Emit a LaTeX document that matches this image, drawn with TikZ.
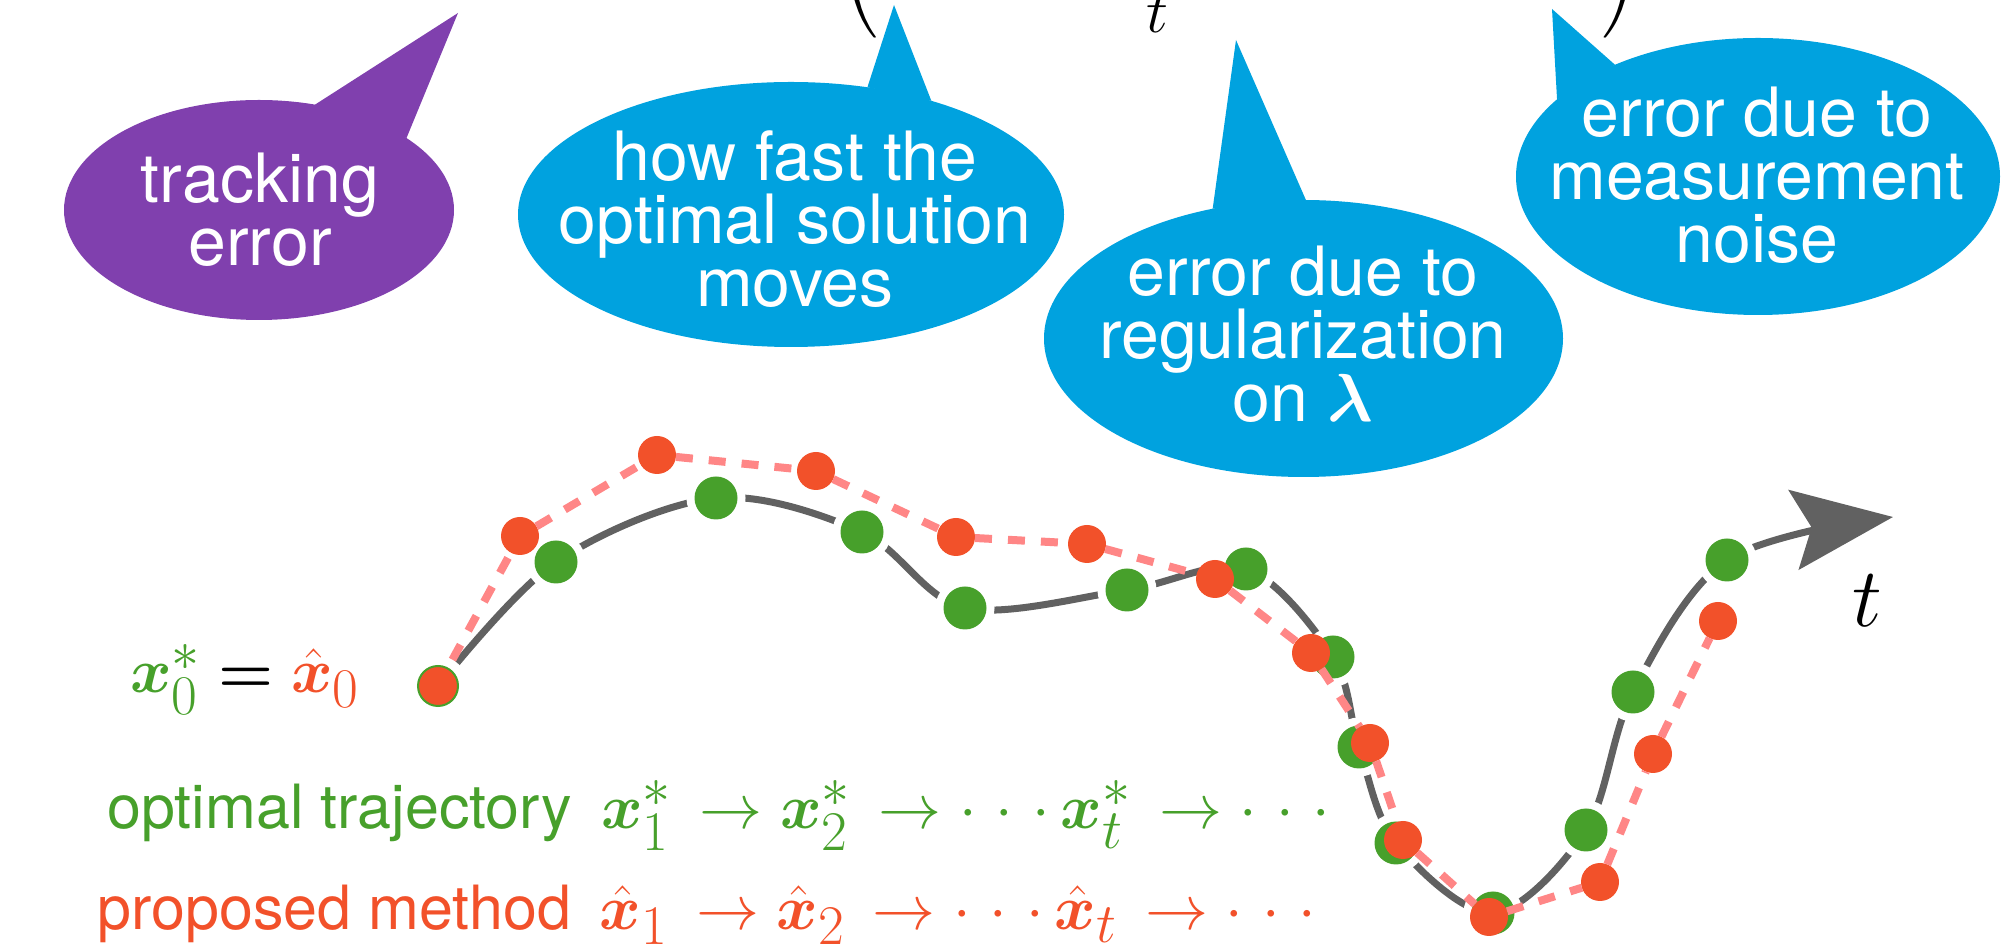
\RequirePackage{fix-cm}
\documentclass[tikz,border=0pt]{standalone}
\usepackage[no-math]{fontspec}
\setmainfont{TeX Gyre Heros}
\usepackage{amsmath}
\usepackage{bm}
\usetikzlibrary{arrows.meta,shapes.geometric,backgrounds}
\definecolor{trkpurple}{HTML}{8040AE}
\definecolor{optblue}{HTML}{00A2DF}
\definecolor{optgreen}{HTML}{47A02B}
\definecolor{proporange}{HTML}{F2512A}
\definecolor{propink}{HTML}{FF8686}
\definecolor{curvegray}{HTML}{616161}
\DeclareMathSizes{31.5}{31.5}{28}{22}
\newcommand{\rowmath}[1]{\hspace{6pt}{\fontsize{31.5pt}{32pt}\selectfont$#1$}}
\newcommand{\wdots}{\mathinner{\cdotp\mkern2.5mu\cdotp\mkern2.5mu\cdotp}}

\begin{document}
\begin{tikzpicture}[
   x=0.5pt, y=-0.5pt,
   bubble/.style={ellipse,inner sep=0pt,outer sep=0pt},
   trkbub/.style={bubble,fill=trkpurple},
   optbub/.style={bubble,fill=optblue},
   bubtxt/.style={text=white,align=center,inner sep=0pt,
                  font=\fontsize{34pt}{31.5pt}\selectfont},
   rowtxt/.style={anchor=base west,inner sep=0pt,
                  font=\fontsize{30.5pt}{32pt}\selectfont},
   mathlbl/.style={inner sep=0pt},
   gdot/.style={circle,fill=optgreen,inner sep=0pt,minimum size=21.5pt,
                preaction={draw=white,line width=8pt}},
   rdot/.style={circle,fill=proporange,inner sep=0pt,outer sep=0pt,minimum size=19pt},
   startdot/.style={circle,fill=proporange,draw=optgreen,line width=1pt,inner sep=0pt,
                minimum size=20pt,outer sep=5pt,preaction={draw=white,line width=10pt}},
   optcurve/.style={draw=curvegray,line width=3.5pt},
   propline/.style={draw=propink,line width=4pt,dash pattern=on 8.5pt off 8pt},
   ]
\useasboundingbox (0,0) rectangle (2015,945);
\clip (0,0) rectangle (2015,945);
%% top formula (cut by the frame)
\node[mathlbl,anchor=south east,font=\fontsize{34pt}{34pt}\selectfont] (lpar) at (878,38) {$\Biggl($};
\node[mathlbl,anchor=base,font=\fontsize{31pt}{31pt}\selectfont] (tsub) at (1157,33) {$t$};
\node[mathlbl,anchor=south west,font=\fontsize{34pt}{34pt}\selectfont] (rpar) at (1602,38) {$\Biggr)$};
%% speech bubbles
\node[trkbub,minimum width=195pt,minimum height=110pt] (trk) at (259,210) {};
\node[optbub,minimum width=273pt,minimum height=132.5pt] (fast) at (791,214.5) {};
\node[optbub,minimum width=259.5pt,minimum height=138.5pt] (reg) at (1303.5,338.5) {};
\node[optbub,minimum width=242pt,minimum height=138.5pt] (noise) at (1758,176.5) {};
\coordinate (trktip) at (458,13);
\coordinate (fasttip) at (894,5);
\coordinate (regtip) at (1236,40);
\coordinate (noisetip) at (1552,9);
\begin{scope}[on background layer]
   \fill[trkpurple] (trk.62) -- (trktip) -- (trk.26) -- cycle;
   \fill[optblue] (fast.59) -- (fasttip) -- (fast.39) -- cycle;
   \fill[optblue] (reg.125) -- (regtip) -- (reg.89) -- cycle;
   \fill[optblue] (noise.159) -- (noisetip) -- (noise.142) -- cycle;
\end{scope}
\node[bubtxt] (trktxt) at (260,209.5) {tracking\\error};
\node[bubtxt] (fasttxt) at (795,219) {how fast the\\optimal solution\\moves};
\node[bubtxt] (regtxt) at (1303,334) {error due to\\regularization\\on $\bm{\lambda}$};
\node[bubtxt] (noisetxt) at (1757,175) {error due to\\measurement\\noise};
%% trajectories
\node[startdot] (x0) at (438,686) {};
\foreach \px/\py [count=\i] in {556/562,716/498,862/532,965/608,1127/590,1246/569,
      1333/657,1359/747,1396/843,1493/913,1586/830,1633/692,1727/560}
   \node[gdot] (g\i) at (\px,\py) {};
\foreach \px/\py [count=\i] in {520/536,657/455,816/471,956/537,1087/544,1215/579,
      1311/653,1370/743,1403/840,1489/917,1600/882,1653/754,1718/621}
   \node[rdot] (r\i) at (\px,\py) {};
\coordinate (tend) at (1893,517);
\begin{scope}[on background layer]
   \draw[optcurve,-{Stealth[length=50pt,width=40pt,inset=9pt]}]
      plot[smooth,tension=0.55] coordinates {(x0.center) (g1.center) (g2.center)
      (g3.center) (g4.center) (g5.center) (g6.center) (g7.center) (g8.center)
      (g9.center) (g10.center) (g11.center) (g12.center) (g13.center) (tend)};
\end{scope}
\draw[propline] (x0) -- (r1) -- (r2) -- (r3) -- (r4) -- (r5) -- (r6) -- (r7)
   -- (r8) -- (r9) -- (r10) -- (r11) -- (r12) -- (r13);
\node[mathlbl,anchor=base west,font=\fontsize{42pt}{42pt}\selectfont] (taxis) at (1852,627) {$t$};
%% labels
\node[mathlbl,anchor=base west,font=\fontsize{31.5pt}{32pt}\selectfont] (init) at (130,693)
   {$\textcolor{optgreen}{\bm{x}_0^*}\bm{=}\textcolor{proporange}{\hat{\bm{x}}_0}$};
\node[rowtxt,text=optgreen] (optrow) at (107,829)
   {optimal trajectory \rowmath{\bm{x}_1^*\,\to\bm{x}_2^*\,\to\wdots\bm{x}_t^*\,\to\wdots}};
\node[rowtxt,text=proporange] (proprow) at (97,930)
   {proposed method \rowmath{\hat{\bm{x}}_1\,\to\hat{\bm{x}}_2\,\to\wdots\hat{\bm{x}}_t\,\to\wdots}};
\end{tikzpicture}
\end{document}
